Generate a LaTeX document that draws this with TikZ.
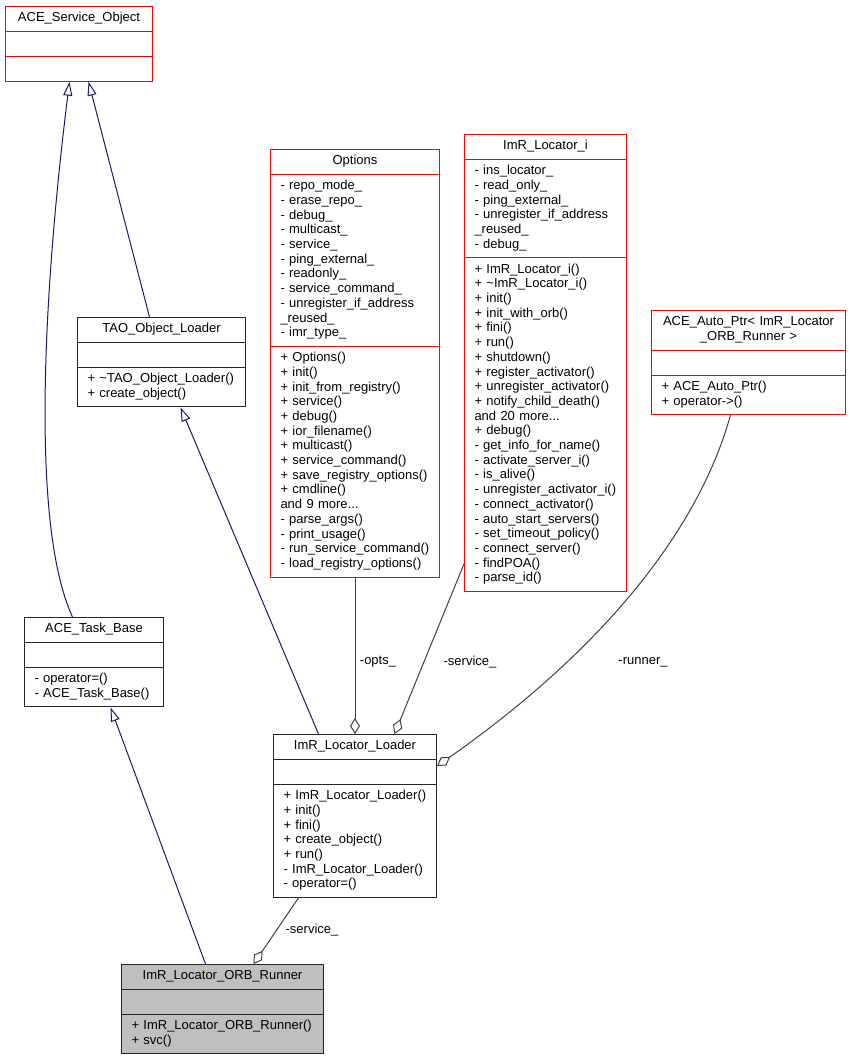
\documentclass[tikz,border=0pt]{standalone}
\usepackage{fontspec}
\setmainfont{Liberation Sans}
\usetikzlibrary{shapes.multipart,arrows.meta}
\definecolor{edgeblue}{HTML}{191970}
\definecolor{edgegray}{HTML}{404040}
\definecolor{boxgray}{HTML}{BFBFBF}
\newcommand{\clsname}[1]{\makebox[\linewidth]{#1}}
\tikzstyle{cls}=[rectangle split, rectangle split parts=3, draw=black!85, line width=1pt, fill=white, anchor=north west, inner xsep=10pt, inner ysep=4.6pt, align=left, font=\fontsize{13}{14.7}\selectfont]
\tikzstyle{undoc}=[cls, draw=red]
\tikzstyle{inherit}=[draw=edgeblue, line width=1pt, -{Triangle[open,length=14pt,width=9pt]}]
\tikzstyle{member}=[draw=edgegray, line width=1pt, -{Diamond[open,length=16pt,width=10pt]}]
\tikzstyle{lbl}=[inner sep=0pt, font=\fontsize{13}{14.7}\selectfont]

\begin{document}
\begin{tikzpicture}[x=1pt,y=-1pt]
    \useasboundingbox (0,0) rectangle (851,1061);
    \node[undoc, text width=127pt] (aso) at (5,6) {\clsname{\strut ACE\_Service\_Object}
      \nodepart{two}\strut \nodepart{three}\strut};
    \node[cls, text width=148pt] (tao) at (77,317) {\clsname{\strut TAO\_Object\_Loader}
      \nodepart{two}\strut
      \nodepart{three}\strut + \textasciitilde TAO\_Object\_Loader()\\+ create\_object()\strut};
    \node[cls, text width=119pt] (task) at (24,617) {\clsname{\strut ACE\_Task\_Base}
      \nodepart{two}\strut
      \nodepart{three}\strut - operator=()\\- ACE\_Task\_Base()\strut};
    \node[undoc, text width=149pt] (opts) at (270,149) {\clsname{\strut Options}
      \nodepart{two}\strut - repo\_mode\_\\- erase\_repo\_\\- debug\_\\- multicast\_\\- service\_\\
      - ping\_external\_\\- readonly\_\\- service\_command\_\\- unregister\_if\_address\\
      \_reused\_\\- imr\_type\_\strut
      \nodepart{three}\strut + Options()\\+ init()\\+ init\_from\_registry()\\+ service()\\
      + debug()\\+ ior\_filename()\\+ multicast()\\+ service\_command()\\
      + save\_registry\_options()\\+ cmdline()\\and 9 more...\\- parse\_args()\\
      - print\_usage()\\- run\_service\_command()\\- load\_registry\_options()\strut};
    \node[undoc, text width=142pt] (loc) at (464,134) {\clsname{\strut ImR\_Locator\_i}
      \nodepart{two}\strut - ins\_locator\_\\- read\_only\_\\- ping\_external\_\\
      - unregister\_if\_address\\\_reused\_\\- debug\_\strut
      \nodepart{three}\strut + ImR\_Locator\_i()\\+ \textasciitilde ImR\_Locator\_i()\\+ init()\\
      + init\_with\_orb()\\+ fini()\\+ run()\\+ shutdown()\\+ register\_activator()\\
      + unregister\_activator()\\+ notify\_child\_death()\\and 20 more...\\+ debug()\\
      - get\_info\_for\_name()\\- activate\_server\_i()\\- is\_alive()\\
      - unregister\_activator\_i()\\- connect\_activator()\\- auto\_start\_servers()\\
      - set\_timeout\_policy()\\- connect\_server()\\- findPOA()\\- parse\_id()\strut};
    \node[undoc, text width=174pt] (aptr) at (651,310) {\clsname{\strut ACE\_Auto\_Ptr< ImR\_Locator}\\\clsname{\_ORB\_Runner >\strut}
      \nodepart{two}\strut
      \nodepart{three}\strut + ACE\_Auto\_Ptr()\\+ operator->()\strut};
    \node[cls, text width=143pt] (loader) at (273,734) {\clsname{\strut ImR\_Locator\_Loader}
      \nodepart{two}\strut
      \nodepart{three}\strut + ImR\_Locator\_Loader()\\+ init()\\+ fini()\\+ create\_object()\\
      + run()\\- ImR\_Locator\_Loader()\\- operator=()\strut};
    \node[cls, fill=boxgray, text width=182pt] (runner) at (121,964) {\clsname{\strut ImR\_Locator\_ORB\_Runner}
      \nodepart{two}\strut
      \nodepart{three}\strut + ImR\_Locator\_ORB\_Runner()\\+ svc()\strut};
    % inheritance
    \draw[inherit] ([xshift=-12pt]tao.north) -- ([xshift=9.5pt]aso.south);
    \draw[inherit] ([xshift=-21.5pt]task.north) .. controls (28,520) and (46,270) .. ([xshift=-9.5pt]aso.south);
    \draw[inherit] ([xshift=-36.5pt]loader.north) -- ([xshift=19pt]tao.south);
    \draw[inherit] ([xshift=-17pt]runner.north) -- ([xshift=16.5pt]task.south);
    % members
    \draw[member] (opts.south) -- (loader.north);
    \draw[member] ([yshift=28pt]loc.south west) -- ([xshift=39.5pt]loader.north);
    \draw[member] ([xshift=-18pt]aptr.south) .. controls (690,560) and (560,680) .. ([yshift=-32pt]loader.north east);
    \draw[member] ([xshift=-56.5pt]loader.south) -- ([xshift=31pt]runner.north);
    \node[lbl] (lopts) at (378,662) {-opts\_};
    \node[lbl] (lsrv) at (470,662) {-service\_};
    \node[lbl] (lrun) at (643,662) {-runner\_};
    \node[lbl] (lsrv2) at (312,930) {-service\_};
\end{tikzpicture}
\end{document}
